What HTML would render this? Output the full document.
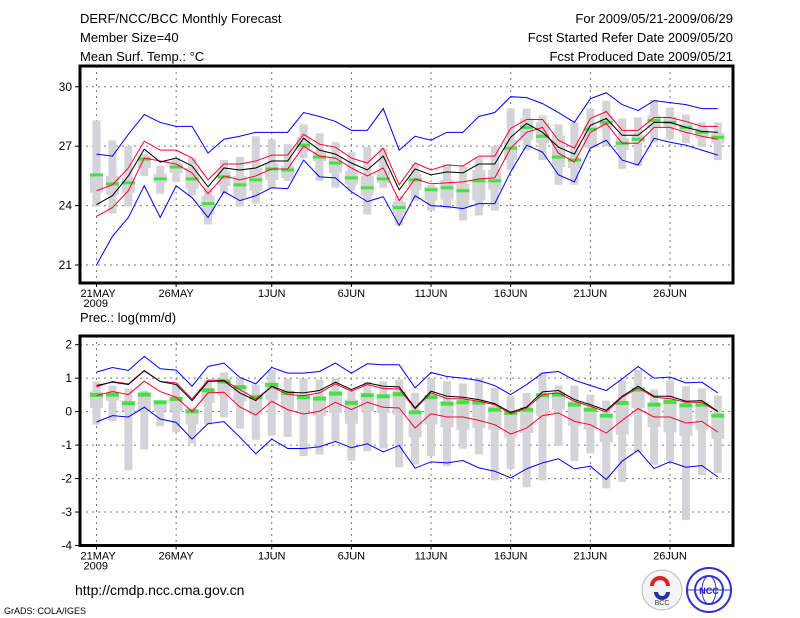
<!DOCTYPE html>
<html><head><meta charset="utf-8"><style>
body{margin:0;background:#fff;}
svg{display:block;font-family:"Liberation Sans",sans-serif;}
</style></head><body>
<svg id="c" width="800" height="618" viewBox="0 0 800 618" xmlns="http://www.w3.org/2000/svg">
<rect x="0" y="0" width="800" height="618" fill="#fff"/>
<g font-size="13" fill="#000">
<text x="80" y="23">DERF/NCC/BCC Monthly Forecast</text>
<text x="80" y="42">Member Size=40</text>
<text x="80" y="61">Mean Surf. Temp.: °C</text>
<text x="733" y="23" text-anchor="end">For 2009/05/21-2009/06/29</text>
<text x="733" y="42" text-anchor="end">Fcst Started Refer Date 2009/05/20</text>
<text x="733" y="61" text-anchor="end">Fcst Produced Date 2009/05/21</text>
<text x="80" y="322">Prec.: log(mm/d)</text>
<text x="75" y="595" font-size="14">http://cmdp.ncc.cma.gov.cn</text>
<text x="4" y="614" font-size="9">GrADS: COLA/IGES</text>
</g>
<g>
<circle cx="662" cy="590" r="20" fill="#f4f4f4" stroke="#bbb"/>
<path d="M652 586 a8 8 0 1 1 16 0" fill="none" stroke="#d22" stroke-width="4"/>
<path d="M656 592 a6 6 0 1 0 12 0" fill="none" stroke="#23a" stroke-width="4"/>
<text x="662" y="605" font-size="7" text-anchor="middle" fill="#333">BCC</text>
</g>
<g>
<circle cx="709" cy="590" r="22" fill="#fff" stroke="#33c" stroke-width="2"/>
<circle cx="709" cy="590" r="14" fill="none" stroke="#33c" stroke-width="2"/>
<ellipse cx="709" cy="590" rx="7" ry="14" fill="none" stroke="#33c"/>
<line x1="687" y1="590" x2="731" y2="590" stroke="#33c"/>
<text x="709" y="594" font-size="9" text-anchor="middle" fill="#22c" font-weight="bold">NCC</text>
</g>
<g id="plots"></g>
</svg>
<script>
// ---- data: days 0..39 (21 May - 29 Jun 2009)
const dayLabels=["21MAY","26MAY","1JUN","6JUN","11JUN","16JUN","21JUN","26JUN"];
const dayLabelIdx=[0,5,11,16,21,26,31,36];
const tTicks=[21,24,27,30];
const tMax=[26.6,26.5,27.6,28.6,28.2,28.0,28.0,26.65,27.35,27.5,27.7,27.7,27.7,28.7,28.5,28.25,27.8,27.8,28.9,26.8,27.5,27.3,27.7,27.7,28.5,28.7,29.5,29.45,29.15,28.7,28.2,29.4,29.7,29.1,28.8,29.3,29.2,29.1,28.9,28.9];
const tMin=[21.0,22.45,23.4,25.0,23.4,25.0,24.4,23.4,24.7,24.25,24.5,24.9,24.85,26.3,25.45,25.4,24.7,24.2,24.45,23.0,24.5,24.0,23.95,23.85,24.1,24.1,25.7,27.05,26.7,25.55,25.2,26.9,27.3,26.3,26.05,27.4,27.2,27.05,26.8,26.55];
const tMean=[24.05,24.5,25.5,26.85,26.2,26.4,26.0,24.95,25.9,25.8,25.9,26.25,26.25,27.4,26.8,26.6,26.15,25.8,26.5,24.8,25.85,25.55,25.7,25.65,26.1,26.1,27.45,28.15,27.7,26.95,26.6,28.05,28.4,27.55,27.55,28.2,28.2,27.95,27.75,27.7];
const tUp=[24.75,25.05,25.9,27.25,26.8,26.8,26.4,25.3,26.1,26.1,26.25,26.55,26.55,27.6,27.1,26.95,26.4,26.15,26.9,25.05,26.15,25.8,26.05,26.0,26.5,26.5,27.9,28.35,28.35,27.3,26.9,28.4,28.75,27.8,27.8,28.45,28.45,28.25,28.0,28.0];
const tLo=[23.45,23.9,24.75,26.4,26.25,26.1,25.65,24.6,25.5,25.3,25.5,25.85,25.85,27.0,26.5,26.4,25.9,25.5,25.9,24.25,25.35,25.1,25.15,25.2,25.35,25.4,26.9,27.7,27.95,26.65,26.2,27.7,28.15,27.15,27.15,27.95,27.95,27.7,27.5,27.35];
const tObs=[25.55,25.1,25.15,26.35,25.35,25.95,25.35,24.1,25.45,25.05,25.3,25.85,25.8,27.05,26.45,26.15,25.4,24.9,25.35,23.9,25.3,24.8,24.9,24.75,25.25,25.25,26.9,27.95,27.5,26.45,26.3,27.85,28.2,27.15,27.35,28.3,28.2,27.95,27.7,27.45];
const tWhHi=[28.3,27.3,27.0,26.6,26.0,26.4,26.4,24.9,26.3,26.45,27.5,27.35,27.1,28.1,27.65,27.2,26.7,26.95,26.9,24.5,26.1,25.05,26.1,26.0,26.45,27.0,28.9,28.9,28.55,28.1,28.2,28.9,29.3,28.4,28.45,29.35,28.95,28.6,28.2,28.2];
const tWhLo=[23.95,23.6,23.95,25.5,24.6,25.2,24.5,23.05,24.6,23.95,24.1,24.85,25.25,26.4,25.25,24.9,24.75,23.55,24.9,23.0,24.25,23.75,23.85,23.25,23.5,23.75,25.8,26.8,26.3,25.05,25.05,26.9,27.0,25.85,26.0,27.2,27.35,27.15,26.95,26.3];
const tBxHi=[25.6,25.5,25.4,26.5,25.6,26.15,25.9,24.5,25.75,25.5,25.9,26.15,26.0,27.45,26.7,26.45,25.75,25.5,25.75,24.2,25.6,24.95,25.3,25.1,25.8,25.8,27.3,28.4,28.2,27.55,26.45,28.05,28.5,27.4,27.55,28.55,28.5,28.15,27.9,27.65];
const tBxLo=[24.65,24.55,24.65,25.9,25.15,25.65,24.85,23.55,25.0,24.4,24.75,25.3,25.4,26.75,26.25,25.65,25.05,24.5,25.15,23.6,24.8,24.25,24.3,23.95,24.25,24.8,26.3,27.3,27.15,25.95,25.9,26.95,27.95,26.8,27.2,27.9,27.95,27.65,27.4,27.15];

const pTicks=[2,1,0,-1,-2,-3,-4];
const pMax=[1.18,1.32,1.23,1.65,1.28,1.24,0.76,1.35,1.45,1.02,0.83,1.32,1.15,1.15,1.2,1.45,1.15,1.43,1.4,1.4,0.71,1.17,1.05,1.0,0.93,0.78,0.51,0.81,1.15,1.2,0.94,0.78,0.63,0.98,1.35,1.0,1.03,0.86,0.88,0.56];
const pMin=[-0.31,-0.12,-0.16,0.13,-0.22,-0.32,-0.82,-0.36,-0.3,-0.76,-1.26,-0.82,-1.1,-1.1,-1.05,-0.89,-1.08,-0.96,-1.2,-1.01,-1.69,-1.5,-1.53,-1.46,-1.68,-1.78,-1.98,-1.71,-1.53,-1.41,-1.71,-1.63,-2.03,-1.48,-1.15,-1.7,-1.5,-1.66,-1.61,-1.95];
const pMean=[0.78,0.88,0.81,1.22,0.9,0.81,0.33,0.9,0.92,0.56,0.33,0.76,0.58,0.56,0.63,0.88,0.66,0.86,0.76,0.74,0.11,0.61,0.46,0.43,0.36,0.24,-0.02,0.14,0.59,0.63,0.36,0.21,0.04,0.46,0.76,0.46,0.46,0.31,0.33,0.01];
const pUp=[0.74,0.9,0.83,1.23,0.9,0.86,0.38,0.94,0.94,0.66,0.38,0.74,0.51,0.48,0.56,0.83,0.61,0.81,0.69,0.68,0.08,0.56,0.39,0.38,0.31,0.21,-0.06,0.11,0.51,0.56,0.31,0.16,-0.01,0.43,0.71,0.43,0.39,0.28,0.28,0.0];
const pLo=[0.48,0.6,0.51,0.91,0.6,0.43,0.0,0.56,0.58,0.14,-0.1,0.31,0.06,-0.07,0.01,0.28,0.06,0.28,0.13,0.11,-0.49,-0.06,-0.16,-0.16,-0.26,-0.39,-0.67,-0.49,-0.12,-0.04,-0.29,-0.39,-0.64,-0.26,0.09,-0.16,-0.16,-0.34,-0.29,-0.61];
const pObs=[0.5,0.51,0.25,0.51,0.28,0.38,0.01,0.64,0.9,0.73,0.43,0.8,0.56,0.43,0.39,0.54,0.26,0.49,0.46,0.52,-0.02,0.43,0.24,0.28,0.27,0.06,-0.04,0.06,0.49,0.51,0.21,0.06,-0.12,0.26,0.66,0.21,0.29,0.19,0.21,-0.12];
const pWhHi=[0.9,0.78,0.69,0.63,0.28,0.86,0.13,0.96,1.17,1.0,0.81,1.25,0.99,0.99,0.96,1.0,0.61,0.89,0.91,0.96,0.56,0.99,0.91,0.84,1.0,0.71,0.48,0.56,1.18,0.78,0.78,0.51,0.33,0.94,1.25,0.66,0.94,0.76,0.69,0.48];
const pWhLo=[-0.39,-0.29,-1.75,-1.13,-0.44,-0.62,-0.96,-0.39,-0.17,-0.51,-0.84,-0.72,-0.76,-1.33,-1.28,-0.87,-1.46,-1.18,-1.1,-1.66,-1.58,-1.33,-1.63,-1.11,-1.28,-2.05,-1.71,-2.26,-2.05,-1.03,-1.48,-1.25,-2.29,-2.1,-1.23,-1.58,-1.48,-3.24,-1.9,-1.83];
const pBxHi=[0.6,0.51,0.31,0.51,0.31,0.36,0.06,0.66,0.86,0.76,0.46,0.86,0.6,0.46,0.46,0.61,0.36,0.51,0.46,0.61,0.01,0.36,0.31,0.31,0.36,0.16,0.01,0.11,0.51,0.51,0.31,0.11,-0.12,0.31,0.68,0.26,0.41,0.21,0.16,-0.14];
const pBxLo=[0.11,0.33,0.01,0.01,0.01,0.01,-0.39,0.26,0.48,0.31,-0.09,0.36,0.06,0.01,-0.12,-0.04,-0.36,0.01,-0.04,-0.09,-0.77,-0.39,-0.47,-0.54,-0.49,-0.54,-0.77,-0.64,-0.14,0.06,-0.42,-0.52,-0.92,-0.69,0.11,-0.46,-0.62,-0.72,-0.54,-0.82];

const NS="http://www.w3.org/2000/svg";
const root=document.getElementById('plots');
function mk(tag,attrs,parent){const e=document.createElementNS(NS,tag);for(const k in attrs)e.setAttribute(k,attrs[k]);(parent||root).appendChild(e);return e;}
const X0=80,X1=733;
function xd(d){return 96.5+d*15.93;}

function panel(name,top,bottom,vTop,vBot,ticks,gridVals,S,greenH){
  const g=mk('g',{});
  
  
  const y=v=>top+(vTop-v)/(vTop-vBot)*(bottom-top);
  gridVals.forEach(v=>{const l=mk('line',{x1:X0,x2:X1,y1:y(v),y2:y(v),stroke:'#777','stroke-dasharray':'2,4'},g);
    
    });
  dayLabelIdx.forEach(d=>{const l=mk('line',{x1:xd(d),x2:xd(d),y1:top,y2:bottom,stroke:'#777','stroke-dasharray':'2,4'},g);
    
    });
  for(let i=0;i<S.whHi.length;i++){
    const cx=xd(i);
    const w=mk('rect',{x:cx-4,y:y(S.whHi[i]),width:8,height:y(S.whLo[i])-y(S.whHi[i]),fill:'#d3d3d8'},g);
    
    
    const b=mk('rect',{x:cx-6.5,y:y(S.bxHi[i]),width:13,height:y(S.bxLo[i])-y(S.bxHi[i]),fill:'#d3d3d8'},g);
    
    
  }
  for(let i=0;i<S.obs.length;i++){
    const r=mk('rect',{x:xd(i)-6.5,y:y(S.obs[i])-greenH/2,width:13,height:greenH,fill:'#44e044'},g);
    
    
  }
  const lines=[[S.max,'#0000ff','ensemble-max-line'],[S.min,'#0000ff','ensemble-min-line'],[S.up,'#ff0033','upper-spread-line'],[S.lo,'#ff0033','lower-spread-line'],[S.mean,'#000','ensemble-mean-line']];
  lines.forEach(([arr,col,nm])=>{
    const p=mk('polyline',{points:arr.map((v,i)=>xd(i)+','+y(v)).join(' '),fill:'none',stroke:col,'stroke-width':1},g);
    
    
  });
  const f=mk('rect',{x:X0,y:top,width:X1-X0,height:bottom-top,fill:'none',stroke:'#000','stroke-width':3},g);
  
  
  ticks.forEach(v=>{
    mk('line',{x1:X0-5,x2:X0,y1:y(v),y2:y(v),stroke:'#000'},g);
    const t=mk('text',{x:X0-8,y:y(v)+4,'text-anchor':'end','font-size':12},g);
    t.textContent=v;
    
    
  });
  dayLabelIdx.forEach((d,k)=>{
    mk('line',{x1:xd(d),x2:xd(d),y1:bottom,y2:bottom+4,stroke:'#000'},g);
    const t=mk('text',{x:k==0?xd(d)-16:xd(d),y:bottom+14,'text-anchor':k==0?'start':'middle','font-size':11},g);
    t.textContent=dayLabels[k];
    
    
  });
  const yr=mk('text',{x:xd(0)-13,y:bottom+24,'font-size':11},g);
  yr.textContent='2009';
  
  
}
panel('temperature-panel',66,283,31.05,20.09,tTicks,tTicks,
  {max:tMax,min:tMin,mean:tMean,up:tUp,lo:tLo,obs:tObs,whHi:tWhHi,whLo:tWhLo,bxHi:tBxHi,bxLo:tBxLo},3);
panel('precipitation-panel',336,545.5,2.26,-4,pTicks,[2,1,0,-1,-2,-3],
  {max:pMax,min:pMin,mean:pMean,up:pUp,lo:pLo,obs:pObs,whHi:pWhHi,whLo:pWhLo,bxHi:pBxHi,bxLo:pBxLo},4);
</script>
</body></html>
